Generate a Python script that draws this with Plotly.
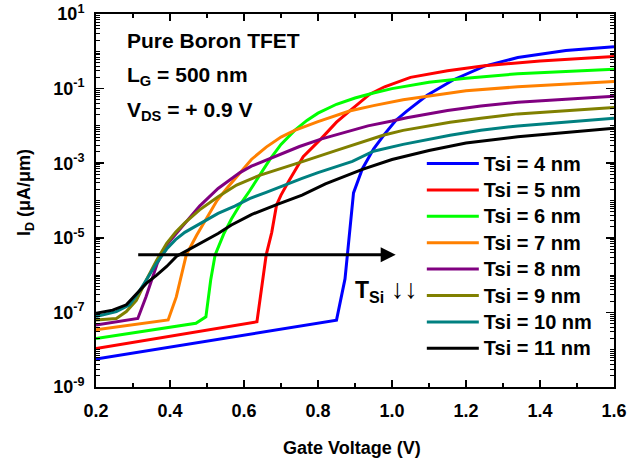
import numpy as np
import plotly.graph_objects as go

# ---------------- data ----------------
TSI_LABELS = ["Tsi = 4 nm", "Tsi = 5 nm", "Tsi = 6 nm", "Tsi = 7 nm",
              "Tsi = 8 nm", "Tsi = 9 nm", "Tsi = 10 nm", "Tsi = 11 nm"]
COLORS = ["#0000FF", "#FF0000", "#00FF00", "#FF8000",
          "#800080", "#808000", "#008080", "#000000"]

VG_4 = [0.2, 0.85, 0.873, 0.896, 0.92, 0.95, 0.98, 1.01, 1.04, 1.095, 1.165, 1.25, 1.34, 1.47, 1.6]
ID_4 = [5.6e-9, 6.2e-8, 7.9e-7, 1.6e-4, 7.1e-4, 2.4e-3, 6.0e-3, 1.4e-2, 2.5e-2, 6.6e-2, 0.17, 0.40, 0.68, 1.05, 1.32]

VG_5 = [0.2, 0.635, 0.66, 0.675, 0.688, 0.70, 0.72, 0.76, 0.81, 0.85, 0.885, 0.94, 0.98, 1.05, 1.15, 1.25, 1.4, 1.6]
ID_5 = [1.07e-8, 5.6e-8, 3.5e-6, 1.4e-5, 7.6e-5, 1.4e-4, 3.2e-4, 1.5e-3, 4.7e-3, 1.26e-2, 2.5e-2, 7.1e-2, 0.112, 0.20, 0.30, 0.41, 0.55, 0.72]

VG_6 = [0.2, 0.47, 0.497, 0.51, 0.522, 0.545, 0.566, 0.59, 0.615, 0.642, 0.67, 0.70, 0.737, 0.77, 0.80, 0.85, 0.90, 0.95, 1.0, 1.1, 1.2, 1.34, 1.6]
ID_6 = [2.0e-8, 5.1e-8, 7.6e-8, 7.4e-7, 3.5e-6, 1.26e-5, 3.2e-5, 7.9e-5, 1.8e-4, 4.5e-4, 1.26e-3, 3.2e-3, 7.6e-3, 1.4e-2, 2.2e-2, 3.8e-2, 5.6e-2, 7.6e-2, 0.10, 0.148, 0.19, 0.25, 0.33]

VG_7 = [0.2, 0.395, 0.417, 0.444, 0.472, 0.5, 0.527, 0.555, 0.589, 0.62, 0.66, 0.70, 0.737, 0.8, 0.885, 0.95, 1.03, 1.1, 1.2, 1.34, 1.6]
ID_7 = [3.4e-8, 6.3e-8, 2.6e-7, 3.5e-6, 1.17e-5, 3.5e-5, 1.0e-4, 2.2e-4, 5.6e-4, 1.26e-3, 2.7e-3, 5.0e-3, 7.6e-3, 1.3e-2, 2.5e-2, 3.5e-2, 5.0e-2, 6.3e-2, 8.7e-2, 0.112, 0.155]

VG_8 = [0.2, 0.313, 0.335, 0.366, 0.39, 0.415, 0.44, 0.48, 0.53, 0.589, 0.62, 0.67, 0.70, 0.75, 0.81, 0.85, 0.935, 1.0, 1.04, 1.15, 1.24, 1.34, 1.6]
ID_8 = [4.6e-8, 6.9e-8, 2.6e-7, 2.1e-6, 6.3e-6, 1.26e-5, 2.4e-5, 7.1e-5, 2.1e-4, 5.6e-4, 8.3e-4, 1.35e-3, 1.8e-3, 2.8e-3, 4.5e-3, 5.9e-3, 1.0e-2, 1.35e-2, 1.66e-2, 2.6e-2, 3.4e-2, 4.3e-2, 6.2e-2]

VG_9 = [0.2, 0.255, 0.282, 0.309, 0.336, 0.364, 0.391, 0.415, 0.44, 0.48, 0.53, 0.58, 0.642, 0.70, 0.76, 0.85, 0.976, 1.03, 1.157, 1.24, 1.34, 1.6]
ID_9 = [6.3e-8, 6.9e-8, 1.05e-7, 2.1e-7, 7.4e-7, 2.5e-6, 7.1e-6, 1.4e-5, 2.5e-5, 5.6e-5, 1.26e-4, 2.6e-4, 4.7e-4, 7.1e-4, 1.12e-3, 2.2e-3, 5.6e-3, 7.6e-3, 1.26e-2, 1.6e-2, 2.1e-2, 3.1e-2]

VG_10 = [0.2, 0.255, 0.291, 0.309, 0.336, 0.364, 0.391, 0.415, 0.44, 0.484, 0.53, 0.575, 0.615, 0.66, 0.696, 0.72, 0.757, 0.80, 0.85, 0.893, 0.95, 1.03, 1.157, 1.24, 1.34, 1.6]
ID_10 = [7.8e-8, 1.05e-7, 1.6e-7, 2.8e-7, 7.4e-7, 2.1e-6, 5.0e-6, 8.9e-6, 1.4e-5, 2.5e-5, 4.5e-5, 7.1e-5, 1.12e-4, 1.66e-4, 2.3e-4, 2.9e-4, 3.9e-4, 5.6e-4, 8.3e-4, 1.12e-3, 2.1e-3, 3.2e-3, 5.6e-3, 7.6e-3, 1.0e-2, 1.6e-2]

VG_11 = [0.2, 0.245, 0.282, 0.309, 0.336, 0.364, 0.391, 0.418, 0.44, 0.484, 0.53, 0.566, 0.62, 0.69, 0.757, 0.82, 0.893, 0.92, 1.0, 1.1, 1.2, 1.34, 1.6]
ID_11 = [9.5e-8, 1.15e-7, 1.6e-7, 3.0e-7, 6.0e-7, 1.0e-6, 1.7e-6, 3.2e-6, 4.2e-6, 7.1e-6, 1.3e-5, 2.2e-5, 4.2e-5, 7.9e-5, 1.4e-4, 2.8e-4, 5.4e-4, 6.8e-4, 1.26e-3, 2.2e-3, 3.5e-3, 5.1e-3, 8.7e-3]

VG_SERIES = [VG_4, VG_5, VG_6, VG_7, VG_8, VG_9, VG_10, VG_11]
ID_SERIES = [ID_4, ID_5, ID_6, ID_7, ID_8, ID_9, ID_10, ID_11]

ARROW_VG = [0.31, 1.01]
ARROW_ID = 3.5e-6

X_TICKS = [0.2, 0.4, 0.6, 0.8, 1.0, 1.2, 1.4, 1.6]
Y_TICK_EXP = [-9, -7, -5, -3, -1, 1]

FONT = "Liberation Sans, Arial, sans-serif"

# ---------------- figure ----------------
fig = go.Figure()
for vg, idv, name, col in zip(VG_SERIES, ID_SERIES, TSI_LABELS, COLORS):
    fig.add_trace(go.Scatter(x=vg, y=idv, mode="lines",
                             name="<span style='font-size:20px'>%s</span>" % name,
                             line=dict(color=col, width=3)))

y_tickvals = [10.0 ** e for e in Y_TICK_EXP]
y_ticktext = ["10<sup>%d</sup>" % e for e in Y_TICK_EXP]
minor_vals = []
for e in range(-9, 1):
    for k in range(1, 10):
        v = k * 10.0 ** e
        if k == 1 and e in Y_TICK_EXP:
            continue
        minor_vals.append(v)

fig.update_layout(
    width=629, height=463,
    margin=dict(l=96, r=15, t=14, b=76),
    paper_bgcolor="white", plot_bgcolor="white",
    font=dict(family=FONT, size=17, color="black", weight="bold"),
    showlegend=True,
    legend=dict(x=0.629, y=0.648, xanchor="left", yanchor="top",
                bgcolor="rgba(0,0,0,0)", borderwidth=0,
                font=dict(family=FONT, size=18, color="black", weight="bold"),
                itemwidth=52, tracegroupgap=0),
    xaxis=dict(range=[0.2, 1.6], tickmode="array", tickvals=X_TICKS,
               ticktext=["%.1f" % v for v in X_TICKS], automargin=False,
               ticklabeloverflow="allow",
               ticks="inside", ticklen=7, tickwidth=1.5, tickcolor="black",
               showline=True, linecolor="black", linewidth=2, mirror="allticks",
               showgrid=False, zeroline=False, ticklabelstandoff=6,
               tickfont=dict(family=FONT, size=18, weight="bold"),
               minor=dict(ticks="inside", dtick=0.1, tick0=0.2, ticklen=4,
                          tickwidth=1.2, tickcolor="black", showgrid=False)),
    yaxis=dict(type="log", range=[-9, 1], tickmode="array", automargin=False,
               ticklabeloverflow="allow",
               tickvals=y_tickvals, ticktext=y_ticktext,
               ticks="inside", ticklen=8, tickwidth=1.5, tickcolor="black",
               showline=True, linecolor="black", linewidth=2, mirror="allticks",
               showgrid=False, zeroline=False, ticklabelstandoff=6,
               tickfont=dict(family=FONT, size=18, weight="bold"),
               minor=dict(ticks="inside", tickmode="array", tickvals=minor_vals,
                          ticklen=4, tickwidth=1, tickcolor="black", showgrid=False)),
)

anns = [
    dict(text="<b>Pure Boron TFET</b>", x=0.056, y=0.928, xref="paper", yref="paper",
         xanchor="left", yanchor="middle", showarrow=False, font=dict(size=21)),
    dict(text="<b>L<sub>G</sub> = 500 nm</b>", x=0.056, y=0.834, xref="paper", yref="paper",
         xanchor="left", yanchor="middle", showarrow=False, font=dict(size=21)),
    dict(text="<b>V<sub>DS</sub> = + 0.9 V</b>", x=0.056, y=0.74, xref="paper", yref="paper",
         xanchor="left", yanchor="middle", showarrow=False, font=dict(size=21)),
    dict(text="<b>I<sub>D</sub> (μA/μm)</b>", x=-0.137, y=0.52, xref="paper", yref="paper",
         xanchor="center", yanchor="middle", textangle=-90, showarrow=False,
         font=dict(size=18)),
    dict(text="<b>Gate Voltage (V)</b>", x=0.494, y=-0.164, xref="paper", yref="paper",
         xanchor="center", yanchor="middle", showarrow=False, font=dict(size=18)),
    dict(text="<b>T<sub>Si</sub></b> <span style='font-weight:normal;font-size:27px'>↓↓</span>",
         x=0.895, y=-6.4, xref="x", yref="y",
         xanchor="left", yanchor="middle", showarrow=False, font=dict(size=23)),
    dict(text="", x=ARROW_VG[1], y=float(np.log10(ARROW_ID)), xref="x", yref="y",
         ax=ARROW_VG[0], ay=float(np.log10(ARROW_ID)), axref="x", ayref="y",
         showarrow=True, arrowhead=2, arrowsize=1, arrowwidth=3, arrowcolor="black"),
]
fig.update_layout(annotations=anns)

fig.write_html("out.html",
               config={"displayModeBar": False, "staticPlot": True},
               post_script="document.body.style.margin='0';document.body.style.padding='0';")
